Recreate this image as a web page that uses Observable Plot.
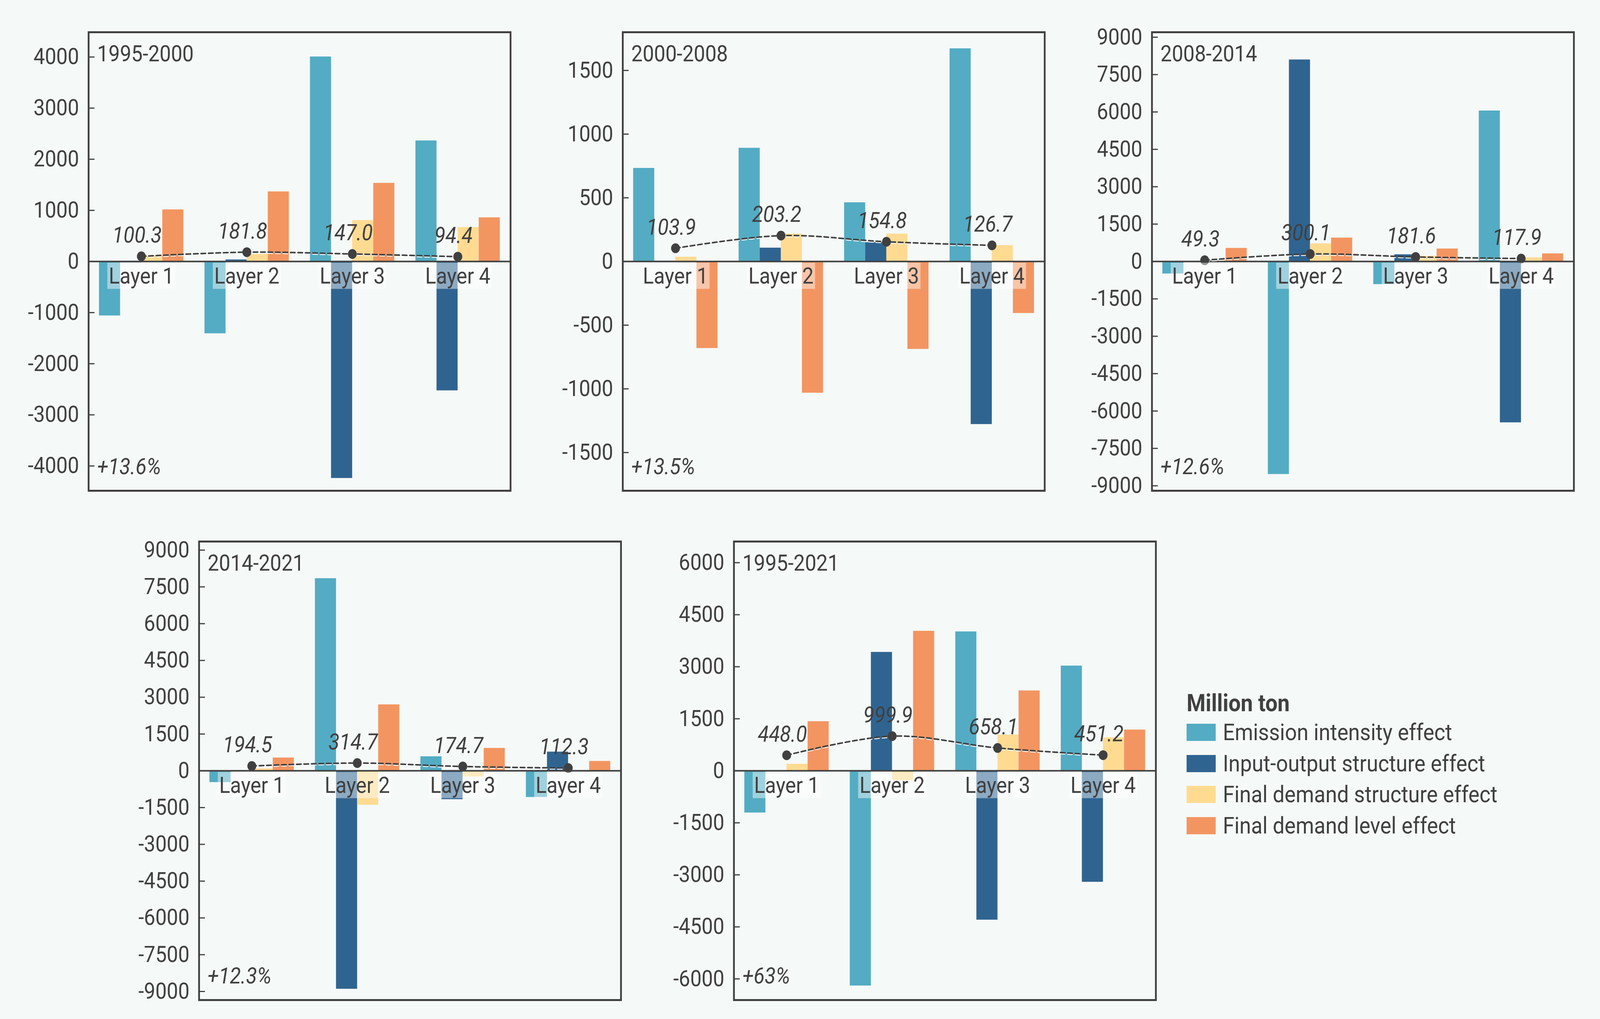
<!DOCTYPE html>
<html><head><meta charset="utf-8">
<script src="https://cdn.jsdelivr.net/npm/d3@7"></script>
<script src="https://cdn.jsdelivr.net/npm/@observablehq/plot@0.6"></script>
<style>
html,body{margin:0;padding:0;background:#f5f9f8;overflow:hidden}
#root{position:relative;width:4505px;height:2609px;background:#f5f9f8;font-family:Roboto,sans-serif;color:#404040;overflow:hidden;transform-origin:0 0}
.panel{position:absolute}
.legend-title{position:absolute;font-size:61px;line-height:58px;font-weight:700;white-space:nowrap}
.legend-row{position:absolute;display:flex;align-items:center;height:44px;font-size:59px;line-height:44px;white-space:nowrap}
.legend-row .sw{display:inline-block;width:82px;height:44px;margin-right:20px}
</style></head><body><div id="root"></div>
<script>
// ---------- data ----------
const layers = ["Layer 1", "Layer 2", "Layer 3", "Layer 4"];
const effects = ["Emission intensity effect", "Input-output structure effect", "Final demand structure effect", "Final demand level effect"];
const periods = ["1995-2000", "2000-2008", "2008-2014", "2014-2021", "1995-2021"];
const growth = ["+13.6%", "+13.5%", "+12.6%", "+12.3%", "+63%"];

// values per period (rows) and layer (columns), million ton
const emissionIntensity = [
  [-1060, -1409, 4006, 2364],
  [733, 891, 463, 1672],
  [-490, -8537, -915, 6049],
  [-469, 7846, 583, -1077],
  [-1209, -6197, 4012, 3027]
];
const inputOutputStructure = [
  [-20, 36, -4239, -2525],
  [4, 107, 150, -1278],
  [-30, 8098, 280, -6463],
  [-20, -8898, -1166, 773],
  [-20, 3421, -4298, -3206]
];
const finalDemandStructure = [
  [110, 143, 806, 669],
  [36, 217, 217, 127],
  [30, 720, 220, 160],
  [89, -1394, -241, 20],
  [197, -278, 1039, 958]
];
const finalDemandLevel = [
  [1015, 1367, 1534, 860],
  [-681, -1032, -688, -406],
  [537, 951, 512, 317],
  [532, 2700, 925, 393],
  [1424, 4030, 2310, 1182]
];
const totals = [
  [100.3, 181.8, 147.0, 94.4],
  [103.9, 203.2, 154.8, 126.7],
  [49.3, 300.1, 181.6, 117.9],
  [194.5, 314.7, 174.7, 112.3],
  [448.0, 999.9, 658.1, 451.2]
];
const yTicks = [
  [-4000, -3000, -2000, -1000, 0, 1000, 2000, 3000, 4000],
  [-1500, -1000, -500, 0, 500, 1000, 1500],
  [-9000, -7500, -6000, -4500, -3000, -1500, 0, 1500, 3000, 4500, 6000, 7500, 9000],
  [-9000, -7500, -6000, -4500, -3000, -1500, 0, 1500, 3000, 4500, 6000, 7500, 9000],
  [-6000, -4500, -3000, -1500, 0, 1500, 3000, 4500, 6000]
];
const yLimits = [4485, 1800, 9200, 9350, 6610];

// ---------- styles / layout ----------
const effectColors = ["#53acc3", "#2f6491", "#ffdb92", "#f39561"];
const ink = "#404040";
const pageW = 4505, pageH = 2609;
const panelPos = [[249, 82], [1753, 82], [3243, 82], [560, 1386], [2066, 1386]];
const frameW = 1188, frameH = 1174, mL = 200, mR = 10, mT = 10, mB = 10;

const effectSeries = [emissionIntensity, inputOutputStructure, finalDemandStructure, finalDemandLevel];
const root = document.getElementById("root");

// fit the 4505x2609 layout into the actual CSS viewport
const sx = Math.min(1, (window.innerWidth || pageW) / pageW);
const sy = Math.min(1, (window.innerHeight || pageH) / pageH);
root.style.transform = `scale(${sx}, ${sy})`;
document.body.style.width = (pageW * sx) + "px";
document.body.style.height = (pageH * sy) + "px";

periods.forEach((period, p) => {
  const bars = [];
  layers.forEach((layer, i) => effects.forEach((effect, j) =>
    bars.push({layer, i, j, effect, value: effectSeries[j][p][i]})));
  const tot = layers.map((layer, i) => ({layer, i, value: totals[p][i]}));
  const xc = d => d.i + 0.5;

  const chart = Plot.plot({
    width: mL + frameW + mR,
    height: mT + frameH + mB,
    marginLeft: mL, marginRight: mR, marginTop: mT, marginBottom: mB,
    style: {background: "transparent", fontFamily: "Roboto, sans-serif", fontSize: "57px", color: ink, overflow: "visible"},
    x: {domain: [0, 4], axis: null},
    y: {domain: [-yLimits[p], yLimits[p]], label: null},
    color: {domain: effects, range: effectColors},
    marks: [
      Plot.rect(bars, {
        x1: d => d.i + 0.1 + 0.2 * d.j,
        x2: d => d.i + 0.3 + 0.2 * d.j,
        y1: d => 0, y2: "value", fill: "effect"
      }),
      Plot.ruleY([0], {stroke: ink, strokeWidth: 4}),
      Plot.axisY({ticks: yTicks[p], tickSize: 17, dx: 17, tickFormat: () => "", stroke: ink, strokeWidth: 3}),
      Plot.axisY({ticks: yTicks[p], tickSize: 0, tickPadding: 27, tickFormat: d => String(d), fill: ink, fontSize: 57}),
      Plot.line(tot, {x: xc, y: "value", stroke: "white", strokeWidth: 3, strokeDasharray: "13,8", curve: "catmull-rom", dy: 3, strokeOpacity: 0.9}),
      Plot.line(tot, {x: xc, y: "value", stroke: ink, strokeWidth: 4, strokeDasharray: "13,8", curve: "catmull-rom"}),
      Plot.dot(tot, {x: xc, y: "value", r: 12.5, fill: ink}),
      Plot.text(tot, {x: xc, y: "value", text: d => d.value.toFixed(1), dy: -35, dx: -12, lineAnchor: "bottom", fontStyle: "italic", fill: ink, fontSize: 57}),
      Plot.text(layers, {x: (d, i) => i + 0.5, y: d => 0, text: d => d, dy: 16, lineAnchor: "top", fill: ink, fontSize: 57}),
      Plot.frame({stroke: ink, strokeWidth: 5}),
      Plot.text([period], {frameAnchor: "top-left", textAnchor: "start", lineAnchor: "top", dx: 24, dy: 34, fill: ink, fontSize: 57}),
      Plot.text([growth[p]], {frameAnchor: "bottom-left", textAnchor: "start", lineAnchor: "bottom", dx: 24, dy: -43, fill: ink, fontSize: 57, fontStyle: "italic"})
    ]
  });
  const wrap = document.createElement("div");
  wrap.className = "panel";
  wrap.style.left = (panelPos[p][0] - mL) + "px";
  wrap.style.top = (panelPos[p][1] - mT) + "px";
  wrap.appendChild(chart);
  root.appendChild(wrap);

  // translucent white box behind each layer label
  chart.querySelectorAll("text").forEach(t => {
    if (!layers.includes(t.textContent)) return;
    const b = t.getBBox();
    const r = document.createElementNS("http://www.w3.org/2000/svg", "rect");
    r.setAttribute("x", b.x - 4);
    r.setAttribute("y", b.y);
    r.setAttribute("width", b.width + 8);
    r.setAttribute("height", b.height);
    r.setAttribute("fill", "white");
    r.setAttribute("fill-opacity", "0.45");
    r.setAttribute("stroke", "none");
    if (t.getAttribute("transform")) r.setAttribute("transform", t.getAttribute("transform"));
    t.parentNode.insertBefore(r, t);
  });
});

// ---------- legend ----------
const legendLeft = 3341, legendTitleTop = 1771, legendRowTop = 1853, legendStep = 79.5;
const lt = document.createElement("div");
lt.className = "legend-title";
lt.style.left = legendLeft + "px";
lt.style.top = legendTitleTop + "px";
lt.textContent = "Million ton";
root.appendChild(lt);
effects.forEach((e, k) => {
  const row = document.createElement("div");
  row.className = "legend-row";
  row.style.left = legendLeft + "px";
  row.style.top = (legendRowTop + k * legendStep) + "px";
  const sw = document.createElement("span");
  sw.className = "sw";
  sw.style.background = effectColors[k];
  row.appendChild(sw);
  row.appendChild(document.createTextNode(e));
  root.appendChild(row);
});
</script></body></html>
